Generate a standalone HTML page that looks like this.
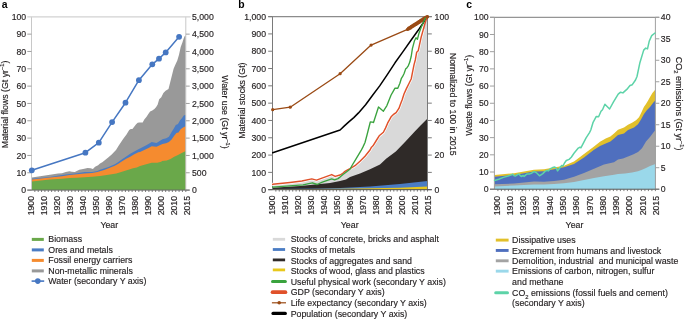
<!DOCTYPE html><html><head><meta charset="utf-8"><style>html,body{margin:0;padding:0;background:#fff;overflow:hidden}svg{display:block;will-change:transform}text{font-family:"Liberation Sans",sans-serif;stroke:#231f20;stroke-width:0.16px;paint-order:stroke}text.nb{stroke:none}</style></head><body>
<svg width="685" height="319" viewBox="0 0 685 319">
<rect width="685" height="319" fill="#fff"/>
<g style="stroke:none">
<text class="nb" x="1.8" y="7.9" font-size="10.4" text-anchor="start" font-weight="bold" fill="#000">a</text>
<text class="nb" x="238.2" y="7.9" font-size="10.4" text-anchor="start" font-weight="bold" fill="#000">b</text>
<text class="nb" x="466.2" y="7.9" font-size="10.4" text-anchor="start" font-weight="bold" fill="#000">c</text>
</g>
<polygon points="31.8,177.6 40.0,176.2 50.0,174.7 58.0,173.6 62.0,173.2 65.8,172.0 69.5,171.3 71.8,171.7 74.8,172.0 79.3,169.8 83.1,169.0 87.6,167.9 90.6,168.3 92.9,169.0 95.1,166.8 98.1,165.3 100.0,163.6 102.3,162.2 105.4,159.7 108.5,157.2 111.7,154.4 114.8,151.3 116.0,150.0 118.0,146.8 119.1,145.1 123.3,138.7 126.5,134.4 129.2,130.1 130.8,129.1 132.4,128.9 134.0,126.9 136.1,124.3 137.7,122.7 139.3,122.5 142.7,122.6 144.3,119.6 146.4,116.9 148.5,113.7 150.1,111.6 152.3,110.5 154.4,108.9 156.0,107.3 157.6,104.7 159.2,99.3 161.3,97.2 163.4,93.1 165.6,90.8 168.5,89.1 170.2,82.3 171.9,75.6 173.6,68.8 175.1,65.2 177.3,60.4 179.0,54.7 180.7,46.9 182.4,42.4 183.5,39.0 184.6,36.2 185.8,35.2 185.8,190.1 31.8,190.1" fill="#999999"/>
<polygon points="31.8,178.8 50.0,177.1 62.0,175.0 69.5,173.9 77.0,173.2 84.6,172.0 92.1,172.0 97.4,170.9 100.0,169.8 102.3,169.1 108.5,166.9 114.8,164.2 118.0,162.2 122.1,159.3 126.2,156.5 130.2,153.8 134.3,151.4 138.4,149.3 140.0,148.4 145.3,145.7 148.5,144.1 151.7,142.0 153.9,142.5 156.5,143.1 159.7,140.9 162.4,139.3 166.3,138.3 168.9,136.7 171.6,131.9 173.7,128.7 175.8,125.0 178.0,124.0 180.1,120.2 181.7,118.6 183.8,115.4 185.8,114.8 185.8,190.1 31.8,190.1" fill="#4a7cc4"/>
<polygon points="31.8,179.6 50.0,177.6 62.0,176.2 69.5,175.0 77.0,174.3 84.6,173.4 92.1,172.9 97.4,172.0 100.0,171.2 104.1,170.0 108.5,168.2 114.8,165.7 118.0,164.0 122.1,161.2 126.2,158.7 130.2,156.7 134.3,154.2 138.4,152.2 140.0,152.0 145.3,149.5 148.5,147.9 151.7,146.3 156.5,146.8 159.7,145.2 162.4,144.1 166.0,143.3 168.9,142.0 171.6,139.4 174.2,135.7 176.4,133.0 178.5,132.5 180.6,129.3 182.7,127.7 185.8,125.9 185.8,190.1 31.8,190.1" fill="#f58b2f"/>
<polygon points="31.8,181.5 50.0,179.6 62.0,178.8 69.5,178.1 77.0,177.7 84.6,177.2 92.1,176.7 100.0,176.0 110.0,174.6 116.3,173.4 122.0,171.8 127.6,169.9 133.0,168.2 136.8,167.6 140.0,166.0 145.3,164.4 151.7,162.8 157.1,162.8 161.3,161.7 162.0,161.0 166.7,160.6 170.5,159.1 174.2,156.8 178.0,154.9 181.7,153.0 185.8,150.9 185.8,190.1 31.8,190.1" fill="#6aa84a"/>
<line x1="34.85" y1="190.10" x2="34.85" y2="192.00" stroke="#5a5a5a" stroke-width="0.8"/>
<line x1="38.21" y1="190.10" x2="38.21" y2="192.00" stroke="#5a5a5a" stroke-width="0.8"/>
<line x1="41.56" y1="190.10" x2="41.56" y2="192.00" stroke="#5a5a5a" stroke-width="0.8"/>
<line x1="44.92" y1="190.10" x2="44.92" y2="192.00" stroke="#5a5a5a" stroke-width="0.8"/>
<line x1="48.27" y1="190.10" x2="48.27" y2="192.00" stroke="#5a5a5a" stroke-width="0.8"/>
<line x1="51.63" y1="190.10" x2="51.63" y2="192.00" stroke="#5a5a5a" stroke-width="0.8"/>
<line x1="54.98" y1="190.10" x2="54.98" y2="192.00" stroke="#5a5a5a" stroke-width="0.8"/>
<line x1="58.33" y1="190.10" x2="58.33" y2="192.00" stroke="#5a5a5a" stroke-width="0.8"/>
<line x1="61.69" y1="190.10" x2="61.69" y2="192.00" stroke="#5a5a5a" stroke-width="0.8"/>
<line x1="65.04" y1="190.10" x2="65.04" y2="192.00" stroke="#5a5a5a" stroke-width="0.8"/>
<line x1="68.40" y1="190.10" x2="68.40" y2="192.00" stroke="#5a5a5a" stroke-width="0.8"/>
<line x1="71.75" y1="190.10" x2="71.75" y2="192.00" stroke="#5a5a5a" stroke-width="0.8"/>
<line x1="75.11" y1="190.10" x2="75.11" y2="192.00" stroke="#5a5a5a" stroke-width="0.8"/>
<line x1="78.46" y1="190.10" x2="78.46" y2="192.00" stroke="#5a5a5a" stroke-width="0.8"/>
<line x1="81.82" y1="190.10" x2="81.82" y2="192.00" stroke="#5a5a5a" stroke-width="0.8"/>
<line x1="85.17" y1="190.10" x2="85.17" y2="192.00" stroke="#5a5a5a" stroke-width="0.8"/>
<line x1="88.52" y1="190.10" x2="88.52" y2="192.00" stroke="#5a5a5a" stroke-width="0.8"/>
<line x1="91.88" y1="190.10" x2="91.88" y2="192.00" stroke="#5a5a5a" stroke-width="0.8"/>
<line x1="95.23" y1="190.10" x2="95.23" y2="192.00" stroke="#5a5a5a" stroke-width="0.8"/>
<line x1="98.59" y1="190.10" x2="98.59" y2="192.00" stroke="#5a5a5a" stroke-width="0.8"/>
<line x1="101.94" y1="190.10" x2="101.94" y2="192.00" stroke="#5a5a5a" stroke-width="0.8"/>
<line x1="105.30" y1="190.10" x2="105.30" y2="192.00" stroke="#5a5a5a" stroke-width="0.8"/>
<line x1="108.65" y1="190.10" x2="108.65" y2="192.00" stroke="#5a5a5a" stroke-width="0.8"/>
<line x1="112.00" y1="190.10" x2="112.00" y2="192.00" stroke="#5a5a5a" stroke-width="0.8"/>
<line x1="115.36" y1="190.10" x2="115.36" y2="192.00" stroke="#5a5a5a" stroke-width="0.8"/>
<line x1="118.71" y1="190.10" x2="118.71" y2="192.00" stroke="#5a5a5a" stroke-width="0.8"/>
<line x1="122.07" y1="190.10" x2="122.07" y2="192.00" stroke="#5a5a5a" stroke-width="0.8"/>
<line x1="125.42" y1="190.10" x2="125.42" y2="192.00" stroke="#5a5a5a" stroke-width="0.8"/>
<line x1="128.78" y1="190.10" x2="128.78" y2="192.00" stroke="#5a5a5a" stroke-width="0.8"/>
<line x1="132.13" y1="190.10" x2="132.13" y2="192.00" stroke="#5a5a5a" stroke-width="0.8"/>
<line x1="135.48" y1="190.10" x2="135.48" y2="192.00" stroke="#5a5a5a" stroke-width="0.8"/>
<line x1="138.84" y1="190.10" x2="138.84" y2="192.00" stroke="#5a5a5a" stroke-width="0.8"/>
<line x1="142.19" y1="190.10" x2="142.19" y2="192.00" stroke="#5a5a5a" stroke-width="0.8"/>
<line x1="145.55" y1="190.10" x2="145.55" y2="192.00" stroke="#5a5a5a" stroke-width="0.8"/>
<line x1="148.90" y1="190.10" x2="148.90" y2="192.00" stroke="#5a5a5a" stroke-width="0.8"/>
<line x1="152.26" y1="190.10" x2="152.26" y2="192.00" stroke="#5a5a5a" stroke-width="0.8"/>
<line x1="155.61" y1="190.10" x2="155.61" y2="192.00" stroke="#5a5a5a" stroke-width="0.8"/>
<line x1="158.97" y1="190.10" x2="158.97" y2="192.00" stroke="#5a5a5a" stroke-width="0.8"/>
<line x1="162.32" y1="190.10" x2="162.32" y2="192.00" stroke="#5a5a5a" stroke-width="0.8"/>
<line x1="165.67" y1="190.10" x2="165.67" y2="192.00" stroke="#5a5a5a" stroke-width="0.8"/>
<line x1="169.03" y1="190.10" x2="169.03" y2="192.00" stroke="#5a5a5a" stroke-width="0.8"/>
<line x1="172.38" y1="190.10" x2="172.38" y2="192.00" stroke="#5a5a5a" stroke-width="0.8"/>
<line x1="175.74" y1="190.10" x2="175.74" y2="192.00" stroke="#5a5a5a" stroke-width="0.8"/>
<line x1="179.09" y1="190.10" x2="179.09" y2="192.00" stroke="#5a5a5a" stroke-width="0.8"/>
<line x1="182.45" y1="190.10" x2="182.45" y2="192.00" stroke="#5a5a5a" stroke-width="0.8"/>
<line x1="185.80" y1="190.10" x2="185.80" y2="192.00" stroke="#5a5a5a" stroke-width="0.8"/>
<line x1="31.50" y1="16.80" x2="31.50" y2="190.10" stroke="#c8c8c8" stroke-width="1"/>
<line x1="185.80" y1="16.80" x2="185.80" y2="190.10" stroke="#c8c8c8" stroke-width="1"/>
<line x1="27.30" y1="16.80" x2="190.60" y2="16.80" stroke="#d2d2d2" stroke-width="1.2"/>
<line x1="27.30" y1="190.10" x2="31.50" y2="190.10" stroke="#a0a0a0" stroke-width="1"/>
<line x1="27.30" y1="172.77" x2="31.50" y2="172.77" stroke="#a0a0a0" stroke-width="1"/>
<line x1="27.30" y1="155.44" x2="31.50" y2="155.44" stroke="#a0a0a0" stroke-width="1"/>
<line x1="27.30" y1="138.11" x2="31.50" y2="138.11" stroke="#a0a0a0" stroke-width="1"/>
<line x1="27.30" y1="120.78" x2="31.50" y2="120.78" stroke="#a0a0a0" stroke-width="1"/>
<line x1="27.30" y1="103.45" x2="31.50" y2="103.45" stroke="#a0a0a0" stroke-width="1"/>
<line x1="27.30" y1="86.12" x2="31.50" y2="86.12" stroke="#a0a0a0" stroke-width="1"/>
<line x1="27.30" y1="68.79" x2="31.50" y2="68.79" stroke="#a0a0a0" stroke-width="1"/>
<line x1="27.30" y1="51.46" x2="31.50" y2="51.46" stroke="#a0a0a0" stroke-width="1"/>
<line x1="27.30" y1="34.13" x2="31.50" y2="34.13" stroke="#a0a0a0" stroke-width="1"/>
<line x1="185.80" y1="190.10" x2="189.70" y2="190.10" stroke="#a0a0a0" stroke-width="1"/>
<line x1="185.80" y1="172.77" x2="189.70" y2="172.77" stroke="#a0a0a0" stroke-width="1"/>
<line x1="185.80" y1="155.44" x2="189.70" y2="155.44" stroke="#a0a0a0" stroke-width="1"/>
<line x1="185.80" y1="138.11" x2="189.70" y2="138.11" stroke="#a0a0a0" stroke-width="1"/>
<line x1="185.80" y1="120.78" x2="189.70" y2="120.78" stroke="#a0a0a0" stroke-width="1"/>
<line x1="185.80" y1="103.45" x2="189.70" y2="103.45" stroke="#a0a0a0" stroke-width="1"/>
<line x1="185.80" y1="86.12" x2="189.70" y2="86.12" stroke="#a0a0a0" stroke-width="1"/>
<line x1="185.80" y1="68.79" x2="189.70" y2="68.79" stroke="#a0a0a0" stroke-width="1"/>
<line x1="185.80" y1="51.46" x2="189.70" y2="51.46" stroke="#a0a0a0" stroke-width="1"/>
<line x1="185.80" y1="34.13" x2="189.70" y2="34.13" stroke="#a0a0a0" stroke-width="1"/>
<line x1="27.30" y1="190.10" x2="189.70" y2="190.10" stroke="#666" stroke-width="1"/>
<polyline points="31.8,170.3 85.4,152.7 98.8,142.7 112.1,122.1 125.5,102.7 138.9,80.2 152.3,64.3 159.0,58.7 165.7,52.4 179.1,36.8" fill="none" stroke="#4677c2" stroke-width="1.5" stroke-linejoin="round" stroke-linecap="round" />
<circle cx="31.8" cy="170.3" r="2.9" fill="#4677c2"/>
<circle cx="85.4" cy="152.7" r="2.9" fill="#4677c2"/>
<circle cx="98.8" cy="142.7" r="2.9" fill="#4677c2"/>
<circle cx="112.1" cy="122.1" r="2.9" fill="#4677c2"/>
<circle cx="125.5" cy="102.7" r="2.9" fill="#4677c2"/>
<circle cx="138.9" cy="80.2" r="2.9" fill="#4677c2"/>
<circle cx="152.3" cy="64.3" r="2.9" fill="#4677c2"/>
<circle cx="159.0" cy="58.7" r="2.9" fill="#4677c2"/>
<circle cx="165.7" cy="52.4" r="2.9" fill="#4677c2"/>
<circle cx="179.1" cy="36.8" r="2.9" fill="#4677c2"/>
<text x="26.2" y="193.2" font-size="8.7" text-anchor="end" font-weight="normal" fill="#231f20">0</text>
<text x="26.2" y="175.9" font-size="8.7" text-anchor="end" font-weight="normal" fill="#231f20">10</text>
<text x="26.2" y="158.5" font-size="8.7" text-anchor="end" font-weight="normal" fill="#231f20">20</text>
<text x="26.2" y="141.2" font-size="8.7" text-anchor="end" font-weight="normal" fill="#231f20">30</text>
<text x="26.2" y="123.9" font-size="8.7" text-anchor="end" font-weight="normal" fill="#231f20">40</text>
<text x="26.2" y="106.5" font-size="8.7" text-anchor="end" font-weight="normal" fill="#231f20">50</text>
<text x="26.2" y="89.2" font-size="8.7" text-anchor="end" font-weight="normal" fill="#231f20">60</text>
<text x="26.2" y="71.9" font-size="8.7" text-anchor="end" font-weight="normal" fill="#231f20">70</text>
<text x="26.2" y="54.6" font-size="8.7" text-anchor="end" font-weight="normal" fill="#231f20">80</text>
<text x="26.2" y="37.2" font-size="8.7" text-anchor="end" font-weight="normal" fill="#231f20">90</text>
<text x="26.2" y="19.9" font-size="8.7" text-anchor="end" font-weight="normal" fill="#231f20">100</text>
<text x="192.0" y="193.2" font-size="8.7" text-anchor="start" font-weight="normal" fill="#231f20">0</text>
<text x="192.0" y="175.9" font-size="8.7" text-anchor="start" font-weight="normal" fill="#231f20">500</text>
<text x="192.0" y="158.5" font-size="8.7" text-anchor="start" font-weight="normal" fill="#231f20">1,000</text>
<text x="192.0" y="141.2" font-size="8.7" text-anchor="start" font-weight="normal" fill="#231f20">1,500</text>
<text x="192.0" y="123.9" font-size="8.7" text-anchor="start" font-weight="normal" fill="#231f20">2,000</text>
<text x="192.0" y="106.5" font-size="8.7" text-anchor="start" font-weight="normal" fill="#231f20">2,500</text>
<text x="192.0" y="89.2" font-size="8.7" text-anchor="start" font-weight="normal" fill="#231f20">3,000</text>
<text x="192.0" y="71.9" font-size="8.7" text-anchor="start" font-weight="normal" fill="#231f20">3,500</text>
<text x="192.0" y="54.6" font-size="8.7" text-anchor="start" font-weight="normal" fill="#231f20">4,000</text>
<text x="192.0" y="37.2" font-size="8.7" text-anchor="start" font-weight="normal" fill="#231f20">4,500</text>
<text x="192.0" y="19.9" font-size="8.7" text-anchor="start" font-weight="normal" fill="#231f20">5,000</text>
<text x="8.5" y="104.4" font-size="8.8" text-anchor="middle" font-weight="normal" fill="#231f20" transform="rotate(-90 8.5 104.4)">Material flows (Gt yr<tspan font-size="5.8" dy="-4.4">–1</tspan><tspan dy="4.4">)</tspan></text>
<text x="221.6" y="112.0" font-size="8.8" text-anchor="middle" font-weight="normal" fill="#231f20" transform="rotate(90 221.6 112.0)">Water use (Gt yr<tspan font-size="5.8" dy="-4.4">–1</tspan><tspan dy="4.4">)</tspan></text>
<polygon points="272.7,184.3 290.0,182.5 301.9,181.0 311.8,178.9 316.5,180.1 331.7,174.6 335.2,176.4 340.0,175.0 342.8,173.3 345.0,171.4 348.0,169.6 350.0,168.6 355.0,165.7 360.0,161.3 365.0,156.3 368.0,152.5 370.0,150.0 371.5,147.2 373.0,145.8 376.3,140.5 379.2,135.8 383.4,132.3 385.5,128.1 387.6,123.2 391.1,116.8 393.2,114.7 396.1,112.6 398.9,108.4 401.0,102.7 402.1,100.0 404.0,94.0 406.3,88.9 409.1,83.2 411.2,79.0 412.6,71.9 414.0,64.9 415.3,60.0 416.7,52.2 418.2,50.8 419.6,44.3 421.0,37.8 423.2,29.9 424.6,24.8 426.1,19.8 427.5,16.6 427.5,189.7 272.7,189.7" fill="#d9d9d9"/>
<polygon points="272.7,187.8 300.0,186.0 330.0,183.0 340.0,181.0 346.0,179.6 350.0,177.0 360.0,173.6 370.0,169.3 380.0,164.5 386.4,158.6 395.8,151.6 405.0,141.9 415.0,131.2 421.0,125.0 427.5,118.4 427.5,189.7 272.7,189.7" fill="#2f2a28"/>
<polygon points="272.7,189.0 320.0,188.5 340.0,187.9 370.0,186.5 400.0,184.0 427.5,180.9 427.5,189.7 272.7,189.7" fill="#4a7cc4"/>
<polygon points="272.7,189.2 340.0,188.8 400.0,187.8 427.5,186.4 427.5,189.7 272.7,189.7" fill="#e8c81c"/>
<line x1="275.87" y1="189.70" x2="275.87" y2="191.60" stroke="#5a5a5a" stroke-width="0.8"/>
<line x1="279.24" y1="189.70" x2="279.24" y2="191.60" stroke="#5a5a5a" stroke-width="0.8"/>
<line x1="282.61" y1="189.70" x2="282.61" y2="191.60" stroke="#5a5a5a" stroke-width="0.8"/>
<line x1="285.98" y1="189.70" x2="285.98" y2="191.60" stroke="#5a5a5a" stroke-width="0.8"/>
<line x1="289.35" y1="189.70" x2="289.35" y2="191.60" stroke="#5a5a5a" stroke-width="0.8"/>
<line x1="292.72" y1="189.70" x2="292.72" y2="191.60" stroke="#5a5a5a" stroke-width="0.8"/>
<line x1="296.09" y1="189.70" x2="296.09" y2="191.60" stroke="#5a5a5a" stroke-width="0.8"/>
<line x1="299.46" y1="189.70" x2="299.46" y2="191.60" stroke="#5a5a5a" stroke-width="0.8"/>
<line x1="302.83" y1="189.70" x2="302.83" y2="191.60" stroke="#5a5a5a" stroke-width="0.8"/>
<line x1="306.20" y1="189.70" x2="306.20" y2="191.60" stroke="#5a5a5a" stroke-width="0.8"/>
<line x1="309.57" y1="189.70" x2="309.57" y2="191.60" stroke="#5a5a5a" stroke-width="0.8"/>
<line x1="312.93" y1="189.70" x2="312.93" y2="191.60" stroke="#5a5a5a" stroke-width="0.8"/>
<line x1="316.30" y1="189.70" x2="316.30" y2="191.60" stroke="#5a5a5a" stroke-width="0.8"/>
<line x1="319.67" y1="189.70" x2="319.67" y2="191.60" stroke="#5a5a5a" stroke-width="0.8"/>
<line x1="323.04" y1="189.70" x2="323.04" y2="191.60" stroke="#5a5a5a" stroke-width="0.8"/>
<line x1="326.41" y1="189.70" x2="326.41" y2="191.60" stroke="#5a5a5a" stroke-width="0.8"/>
<line x1="329.78" y1="189.70" x2="329.78" y2="191.60" stroke="#5a5a5a" stroke-width="0.8"/>
<line x1="333.15" y1="189.70" x2="333.15" y2="191.60" stroke="#5a5a5a" stroke-width="0.8"/>
<line x1="336.52" y1="189.70" x2="336.52" y2="191.60" stroke="#5a5a5a" stroke-width="0.8"/>
<line x1="339.89" y1="189.70" x2="339.89" y2="191.60" stroke="#5a5a5a" stroke-width="0.8"/>
<line x1="343.26" y1="189.70" x2="343.26" y2="191.60" stroke="#5a5a5a" stroke-width="0.8"/>
<line x1="346.63" y1="189.70" x2="346.63" y2="191.60" stroke="#5a5a5a" stroke-width="0.8"/>
<line x1="350.00" y1="189.70" x2="350.00" y2="191.60" stroke="#5a5a5a" stroke-width="0.8"/>
<line x1="353.37" y1="189.70" x2="353.37" y2="191.60" stroke="#5a5a5a" stroke-width="0.8"/>
<line x1="356.74" y1="189.70" x2="356.74" y2="191.60" stroke="#5a5a5a" stroke-width="0.8"/>
<line x1="360.11" y1="189.70" x2="360.11" y2="191.60" stroke="#5a5a5a" stroke-width="0.8"/>
<line x1="363.48" y1="189.70" x2="363.48" y2="191.60" stroke="#5a5a5a" stroke-width="0.8"/>
<line x1="366.85" y1="189.70" x2="366.85" y2="191.60" stroke="#5a5a5a" stroke-width="0.8"/>
<line x1="370.22" y1="189.70" x2="370.22" y2="191.60" stroke="#5a5a5a" stroke-width="0.8"/>
<line x1="373.59" y1="189.70" x2="373.59" y2="191.60" stroke="#5a5a5a" stroke-width="0.8"/>
<line x1="376.96" y1="189.70" x2="376.96" y2="191.60" stroke="#5a5a5a" stroke-width="0.8"/>
<line x1="380.33" y1="189.70" x2="380.33" y2="191.60" stroke="#5a5a5a" stroke-width="0.8"/>
<line x1="383.70" y1="189.70" x2="383.70" y2="191.60" stroke="#5a5a5a" stroke-width="0.8"/>
<line x1="387.07" y1="189.70" x2="387.07" y2="191.60" stroke="#5a5a5a" stroke-width="0.8"/>
<line x1="390.43" y1="189.70" x2="390.43" y2="191.60" stroke="#5a5a5a" stroke-width="0.8"/>
<line x1="393.80" y1="189.70" x2="393.80" y2="191.60" stroke="#5a5a5a" stroke-width="0.8"/>
<line x1="397.17" y1="189.70" x2="397.17" y2="191.60" stroke="#5a5a5a" stroke-width="0.8"/>
<line x1="400.54" y1="189.70" x2="400.54" y2="191.60" stroke="#5a5a5a" stroke-width="0.8"/>
<line x1="403.91" y1="189.70" x2="403.91" y2="191.60" stroke="#5a5a5a" stroke-width="0.8"/>
<line x1="407.28" y1="189.70" x2="407.28" y2="191.60" stroke="#5a5a5a" stroke-width="0.8"/>
<line x1="410.65" y1="189.70" x2="410.65" y2="191.60" stroke="#5a5a5a" stroke-width="0.8"/>
<line x1="414.02" y1="189.70" x2="414.02" y2="191.60" stroke="#5a5a5a" stroke-width="0.8"/>
<line x1="417.39" y1="189.70" x2="417.39" y2="191.60" stroke="#5a5a5a" stroke-width="0.8"/>
<line x1="420.76" y1="189.70" x2="420.76" y2="191.60" stroke="#5a5a5a" stroke-width="0.8"/>
<line x1="424.13" y1="189.70" x2="424.13" y2="191.60" stroke="#5a5a5a" stroke-width="0.8"/>
<line x1="427.50" y1="189.70" x2="427.50" y2="191.60" stroke="#5a5a5a" stroke-width="0.8"/>
<line x1="272.50" y1="16.60" x2="272.50" y2="189.70" stroke="#7a7a7a" stroke-width="1"/>
<line x1="427.50" y1="16.60" x2="427.50" y2="189.70" stroke="#7a7a7a" stroke-width="1"/>
<line x1="268.20" y1="16.60" x2="431.80" y2="16.60" stroke="#8c8c8c" stroke-width="1.2"/>
<line x1="268.20" y1="189.70" x2="272.50" y2="189.70" stroke="#7a7a7a" stroke-width="1"/>
<line x1="268.20" y1="172.39" x2="272.50" y2="172.39" stroke="#7a7a7a" stroke-width="1"/>
<line x1="268.20" y1="155.08" x2="272.50" y2="155.08" stroke="#7a7a7a" stroke-width="1"/>
<line x1="268.20" y1="137.77" x2="272.50" y2="137.77" stroke="#7a7a7a" stroke-width="1"/>
<line x1="268.20" y1="120.46" x2="272.50" y2="120.46" stroke="#7a7a7a" stroke-width="1"/>
<line x1="268.20" y1="103.15" x2="272.50" y2="103.15" stroke="#7a7a7a" stroke-width="1"/>
<line x1="268.20" y1="85.84" x2="272.50" y2="85.84" stroke="#7a7a7a" stroke-width="1"/>
<line x1="268.20" y1="68.53" x2="272.50" y2="68.53" stroke="#7a7a7a" stroke-width="1"/>
<line x1="268.20" y1="51.22" x2="272.50" y2="51.22" stroke="#7a7a7a" stroke-width="1"/>
<line x1="268.20" y1="33.91" x2="272.50" y2="33.91" stroke="#7a7a7a" stroke-width="1"/>
<line x1="268.20" y1="16.60" x2="272.50" y2="16.60" stroke="#7a7a7a" stroke-width="1"/>
<line x1="427.50" y1="189.70" x2="431.80" y2="189.70" stroke="#7a7a7a" stroke-width="1"/>
<line x1="427.50" y1="172.39" x2="431.80" y2="172.39" stroke="#7a7a7a" stroke-width="1"/>
<line x1="427.50" y1="155.08" x2="431.80" y2="155.08" stroke="#7a7a7a" stroke-width="1"/>
<line x1="427.50" y1="137.77" x2="431.80" y2="137.77" stroke="#7a7a7a" stroke-width="1"/>
<line x1="427.50" y1="120.46" x2="431.80" y2="120.46" stroke="#7a7a7a" stroke-width="1"/>
<line x1="427.50" y1="103.15" x2="431.80" y2="103.15" stroke="#7a7a7a" stroke-width="1"/>
<line x1="427.50" y1="85.84" x2="431.80" y2="85.84" stroke="#7a7a7a" stroke-width="1"/>
<line x1="427.50" y1="68.53" x2="431.80" y2="68.53" stroke="#7a7a7a" stroke-width="1"/>
<line x1="427.50" y1="51.22" x2="431.80" y2="51.22" stroke="#7a7a7a" stroke-width="1"/>
<line x1="427.50" y1="33.91" x2="431.80" y2="33.91" stroke="#7a7a7a" stroke-width="1"/>
<line x1="427.50" y1="16.60" x2="431.80" y2="16.60" stroke="#7a7a7a" stroke-width="1"/>
<line x1="268.20" y1="189.70" x2="431.80" y2="189.70" stroke="#555" stroke-width="1"/>
<polyline points="272.7,109.7 290.2,107.2 340.1,73.7 371.1,45.1 407.5,29.4 408.8,28.5 410.2,27.7 411.5,26.8 412.8,26.0 414.2,25.1 415.5,24.2 416.8,23.4 418.2,22.5 419.5,21.7 420.8,20.8 422.2,19.9 423.5,19.1 424.8,18.2 426.2,17.4 427.5,16.5" fill="none" stroke="#9a4a14" stroke-width="1.3" stroke-linejoin="round" stroke-linecap="round" />
<circle cx="272.7" cy="109.7" r="1.6" fill="#9a4a14"/>
<circle cx="290.2" cy="107.2" r="1.6" fill="#9a4a14"/>
<circle cx="340.1" cy="73.7" r="1.6" fill="#9a4a14"/>
<circle cx="371.1" cy="45.1" r="1.6" fill="#9a4a14"/>
<circle cx="407.5" cy="29.4" r="1.6" fill="#9a4a14"/>
<circle cx="408.8" cy="28.5" r="2.0" fill="#9a4a14"/>
<circle cx="410.2" cy="27.7" r="2.0" fill="#9a4a14"/>
<circle cx="411.5" cy="26.8" r="2.0" fill="#9a4a14"/>
<circle cx="412.8" cy="26.0" r="2.0" fill="#9a4a14"/>
<circle cx="414.2" cy="25.1" r="2.0" fill="#9a4a14"/>
<circle cx="415.5" cy="24.2" r="2.0" fill="#9a4a14"/>
<circle cx="416.8" cy="23.4" r="2.0" fill="#9a4a14"/>
<circle cx="418.2" cy="22.5" r="2.0" fill="#9a4a14"/>
<circle cx="419.5" cy="21.7" r="2.0" fill="#9a4a14"/>
<circle cx="420.8" cy="20.8" r="2.0" fill="#9a4a14"/>
<circle cx="422.2" cy="19.9" r="2.0" fill="#9a4a14"/>
<circle cx="423.5" cy="19.1" r="2.0" fill="#9a4a14"/>
<circle cx="424.8" cy="18.2" r="2.0" fill="#9a4a14"/>
<circle cx="426.2" cy="17.4" r="2.0" fill="#9a4a14"/>
<circle cx="427.5" cy="16.5" r="1.6" fill="#9a4a14"/>
<polyline points="272.7,152.8 340.1,130.0 344.4,125.9 349.1,121.6 353.8,117.6 358.5,112.9 365.6,104.7 372.6,95.3 379.7,85.9 386.8,75.3 395.0,62.8 403.0,51.6 411.0,40.3 419.1,29.0 427.5,16.6" fill="none" stroke="#000000" stroke-width="1.5" stroke-linejoin="round" stroke-linecap="round" />
<polyline points="272.7,184.3 290.0,182.5 301.9,181.0 311.8,178.9 316.5,180.1 331.7,174.6 335.2,176.4 340.0,175.0 342.8,173.3 345.0,171.4 348.0,169.6 350.0,168.6 355.0,165.7 360.0,161.3 365.0,156.3 368.0,152.5 370.0,150.0 371.5,147.2 373.0,145.8 376.3,140.5 379.2,135.8 383.4,132.3 385.5,128.1 387.6,123.2 391.1,116.8 393.2,114.7 396.1,112.6 398.9,108.4 401.0,102.7 402.1,100.0 404.0,94.0 406.3,88.9 409.1,83.2 411.2,79.0 412.6,71.9 414.0,64.9 415.3,60.0 416.7,52.2 418.2,50.8 419.6,44.3 421.0,37.8 423.2,29.9" fill="none" stroke="#ffffff" stroke-width="2.9" stroke-linejoin="round" stroke-linecap="round" />
<polyline points="272.7,184.3 290.0,182.5 301.9,181.0 311.8,178.9 316.5,180.1 331.7,174.6 335.2,176.4 340.0,175.0 342.8,173.3 345.0,171.4 348.0,169.6 350.0,168.6 355.0,165.7 360.0,161.3 365.0,156.3 368.0,152.5 370.0,150.0 371.5,147.2 373.0,145.8 376.3,140.5 379.2,135.8 383.4,132.3 385.5,128.1 387.6,123.2 391.1,116.8 393.2,114.7 396.1,112.6 398.9,108.4 401.0,102.7 402.1,100.0 404.0,94.0 406.3,88.9 409.1,83.2 411.2,79.0 412.6,71.9 414.0,64.9 415.3,60.0 416.7,52.2 418.2,50.8 419.6,44.3 421.0,37.8 423.2,29.9 424.6,24.8 426.1,19.8 427.5,16.6" fill="none" stroke="#e0512a" stroke-width="1.45" stroke-linejoin="round" stroke-linecap="round" />
<polyline points="272.7,187.1 303.0,184.8 312.4,182.8 317.1,184.5 322.3,182.2 331.7,178.9 334.6,179.9 338.0,178.6 340.0,177.1 343.0,174.5 347.0,171.5 350.0,169.2 352.0,165.5 355.0,160.7 358.0,155.7 361.0,150.7 363.0,146.9 365.0,142.5 367.0,135.0 370.3,122.0 372.4,122.2 373.5,122.5 378.5,107.0 383.4,111.2 386.9,105.6 389.7,98.5 391.1,95.0 392.9,91.9 395.0,88.2 397.8,88.2 399.9,83.2 401.4,78.3 402.8,76.2 404.2,73.3 405.6,69.1 407.0,67.7 408.4,65.6 409.8,62.1 410.4,59.5 411.2,56.5 412.4,48.6 414.5,40.7 416.0,37.8 417.4,39.3 418.9,33.5 421.0,27.7 423.2,22.7 425.4,18.3 427.5,16.6" fill="none" stroke="#3aa33e" stroke-width="1.35" stroke-linejoin="round" stroke-linecap="round" />
<circle cx="427.2" cy="16.9" r="1.7" fill="#9a4a14"/>
<text x="266.0" y="192.8" font-size="8.7" text-anchor="end" font-weight="normal" fill="#231f20">0</text>
<text x="266.0" y="175.5" font-size="8.7" text-anchor="end" font-weight="normal" fill="#231f20">100</text>
<text x="266.0" y="158.2" font-size="8.7" text-anchor="end" font-weight="normal" fill="#231f20">200</text>
<text x="266.0" y="140.9" font-size="8.7" text-anchor="end" font-weight="normal" fill="#231f20">300</text>
<text x="266.0" y="123.6" font-size="8.7" text-anchor="end" font-weight="normal" fill="#231f20">400</text>
<text x="266.0" y="106.2" font-size="8.7" text-anchor="end" font-weight="normal" fill="#231f20">500</text>
<text x="266.0" y="88.9" font-size="8.7" text-anchor="end" font-weight="normal" fill="#231f20">600</text>
<text x="266.0" y="71.6" font-size="8.7" text-anchor="end" font-weight="normal" fill="#231f20">700</text>
<text x="266.0" y="54.3" font-size="8.7" text-anchor="end" font-weight="normal" fill="#231f20">800</text>
<text x="266.0" y="37.0" font-size="8.7" text-anchor="end" font-weight="normal" fill="#231f20">900</text>
<text x="266.0" y="19.7" font-size="8.7" text-anchor="end" font-weight="normal" fill="#231f20">1,000</text>
<text x="434.6" y="192.8" font-size="8.7" text-anchor="start" font-weight="normal" fill="#231f20">0</text>
<text x="434.6" y="158.2" font-size="8.7" text-anchor="start" font-weight="normal" fill="#231f20">20</text>
<text x="434.6" y="123.6" font-size="8.7" text-anchor="start" font-weight="normal" fill="#231f20">40</text>
<text x="434.6" y="88.9" font-size="8.7" text-anchor="start" font-weight="normal" fill="#231f20">60</text>
<text x="434.6" y="54.3" font-size="8.7" text-anchor="start" font-weight="normal" fill="#231f20">80</text>
<text x="434.6" y="19.7" font-size="8.7" text-anchor="start" font-weight="normal" fill="#231f20">100</text>
<text x="244.9" y="100.6" font-size="8.8" text-anchor="middle" font-weight="normal" fill="#231f20" transform="rotate(-90 244.9 100.6)">Material stocks (Gt)</text>
<text x="449.6" y="104.2" font-size="8.8" text-anchor="middle" font-weight="normal" fill="#231f20" transform="rotate(90 449.6 104.2)">Normalized to 100 in 2015</text>
<polygon points="494.6,174.9 514.0,173.2 534.0,169.8 544.0,169.2 554.0,167.6 564.0,165.7 574.0,161.5 584.0,154.1 594.0,146.4 600.0,141.8 605.7,138.5 610.4,136.4 614.0,133.5 618.0,129.8 624.0,127.5 628.0,124.8 632.0,122.7 636.0,120.3 639.0,117.2 641.0,113.3 644.0,106.8 646.0,104.1 648.1,100.4 650.2,96.7 652.4,92.9 655.4,89.5 655.4,189.2 494.6,189.2" fill="#e2c02a"/>
<polygon points="494.6,176.8 514.0,174.9 534.0,171.6 544.0,171.2 554.0,169.2 564.0,167.3 574.0,164.0 584.0,157.6 594.0,149.8 600.0,146.0 605.7,143.4 610.4,141.5 614.0,138.5 618.0,135.0 624.0,133.5 628.0,130.0 634.0,127.4 638.0,124.3 641.0,119.6 644.0,114.1 647.0,110.1 650.0,107.0 653.0,103.1 655.4,100.3 655.4,189.2 494.6,189.2" fill="#4f6fbe"/>
<polygon points="494.6,184.3 514.0,183.5 534.0,181.5 544.0,181.8 554.0,181.1 564.0,179.7 574.0,176.8 584.0,173.1 594.0,168.8 604.0,164.5 614.0,162.3 618.0,159.6 623.0,158.5 628.0,156.6 633.0,154.4 638.0,151.9 642.0,148.2 646.0,141.6 650.0,136.9 653.0,133.1 655.4,130.0 655.4,189.2 494.6,189.2" fill="#a3a3a3"/>
<polygon points="494.6,186.4 514.0,185.6 534.0,184.5 544.0,184.4 554.0,184.0 564.0,183.3 574.0,181.9 584.0,180.0 594.0,177.9 604.0,176.2 614.0,174.8 618.0,174.1 625.0,173.5 632.0,172.6 638.0,171.3 642.0,169.8 646.0,167.9 650.0,166.0 655.4,164.1 655.4,189.2 494.6,189.2" fill="#9ad8ea"/>
<line x1="497.90" y1="189.20" x2="497.90" y2="191.10" stroke="#5a5a5a" stroke-width="0.8"/>
<line x1="501.40" y1="189.20" x2="501.40" y2="191.10" stroke="#5a5a5a" stroke-width="0.8"/>
<line x1="504.90" y1="189.20" x2="504.90" y2="191.10" stroke="#5a5a5a" stroke-width="0.8"/>
<line x1="508.40" y1="189.20" x2="508.40" y2="191.10" stroke="#5a5a5a" stroke-width="0.8"/>
<line x1="511.90" y1="189.20" x2="511.90" y2="191.10" stroke="#5a5a5a" stroke-width="0.8"/>
<line x1="515.40" y1="189.20" x2="515.40" y2="191.10" stroke="#5a5a5a" stroke-width="0.8"/>
<line x1="518.90" y1="189.20" x2="518.90" y2="191.10" stroke="#5a5a5a" stroke-width="0.8"/>
<line x1="522.40" y1="189.20" x2="522.40" y2="191.10" stroke="#5a5a5a" stroke-width="0.8"/>
<line x1="525.90" y1="189.20" x2="525.90" y2="191.10" stroke="#5a5a5a" stroke-width="0.8"/>
<line x1="529.40" y1="189.20" x2="529.40" y2="191.10" stroke="#5a5a5a" stroke-width="0.8"/>
<line x1="532.90" y1="189.20" x2="532.90" y2="191.10" stroke="#5a5a5a" stroke-width="0.8"/>
<line x1="536.40" y1="189.20" x2="536.40" y2="191.10" stroke="#5a5a5a" stroke-width="0.8"/>
<line x1="539.90" y1="189.20" x2="539.90" y2="191.10" stroke="#5a5a5a" stroke-width="0.8"/>
<line x1="543.40" y1="189.20" x2="543.40" y2="191.10" stroke="#5a5a5a" stroke-width="0.8"/>
<line x1="546.90" y1="189.20" x2="546.90" y2="191.10" stroke="#5a5a5a" stroke-width="0.8"/>
<line x1="550.40" y1="189.20" x2="550.40" y2="191.10" stroke="#5a5a5a" stroke-width="0.8"/>
<line x1="553.90" y1="189.20" x2="553.90" y2="191.10" stroke="#5a5a5a" stroke-width="0.8"/>
<line x1="557.40" y1="189.20" x2="557.40" y2="191.10" stroke="#5a5a5a" stroke-width="0.8"/>
<line x1="560.90" y1="189.20" x2="560.90" y2="191.10" stroke="#5a5a5a" stroke-width="0.8"/>
<line x1="564.40" y1="189.20" x2="564.40" y2="191.10" stroke="#5a5a5a" stroke-width="0.8"/>
<line x1="567.90" y1="189.20" x2="567.90" y2="191.10" stroke="#5a5a5a" stroke-width="0.8"/>
<line x1="571.40" y1="189.20" x2="571.40" y2="191.10" stroke="#5a5a5a" stroke-width="0.8"/>
<line x1="574.90" y1="189.20" x2="574.90" y2="191.10" stroke="#5a5a5a" stroke-width="0.8"/>
<line x1="578.40" y1="189.20" x2="578.40" y2="191.10" stroke="#5a5a5a" stroke-width="0.8"/>
<line x1="581.90" y1="189.20" x2="581.90" y2="191.10" stroke="#5a5a5a" stroke-width="0.8"/>
<line x1="585.40" y1="189.20" x2="585.40" y2="191.10" stroke="#5a5a5a" stroke-width="0.8"/>
<line x1="588.90" y1="189.20" x2="588.90" y2="191.10" stroke="#5a5a5a" stroke-width="0.8"/>
<line x1="592.40" y1="189.20" x2="592.40" y2="191.10" stroke="#5a5a5a" stroke-width="0.8"/>
<line x1="595.90" y1="189.20" x2="595.90" y2="191.10" stroke="#5a5a5a" stroke-width="0.8"/>
<line x1="599.40" y1="189.20" x2="599.40" y2="191.10" stroke="#5a5a5a" stroke-width="0.8"/>
<line x1="602.90" y1="189.20" x2="602.90" y2="191.10" stroke="#5a5a5a" stroke-width="0.8"/>
<line x1="606.40" y1="189.20" x2="606.40" y2="191.10" stroke="#5a5a5a" stroke-width="0.8"/>
<line x1="609.90" y1="189.20" x2="609.90" y2="191.10" stroke="#5a5a5a" stroke-width="0.8"/>
<line x1="613.40" y1="189.20" x2="613.40" y2="191.10" stroke="#5a5a5a" stroke-width="0.8"/>
<line x1="616.90" y1="189.20" x2="616.90" y2="191.10" stroke="#5a5a5a" stroke-width="0.8"/>
<line x1="620.40" y1="189.20" x2="620.40" y2="191.10" stroke="#5a5a5a" stroke-width="0.8"/>
<line x1="623.90" y1="189.20" x2="623.90" y2="191.10" stroke="#5a5a5a" stroke-width="0.8"/>
<line x1="627.40" y1="189.20" x2="627.40" y2="191.10" stroke="#5a5a5a" stroke-width="0.8"/>
<line x1="630.90" y1="189.20" x2="630.90" y2="191.10" stroke="#5a5a5a" stroke-width="0.8"/>
<line x1="634.40" y1="189.20" x2="634.40" y2="191.10" stroke="#5a5a5a" stroke-width="0.8"/>
<line x1="637.90" y1="189.20" x2="637.90" y2="191.10" stroke="#5a5a5a" stroke-width="0.8"/>
<line x1="641.40" y1="189.20" x2="641.40" y2="191.10" stroke="#5a5a5a" stroke-width="0.8"/>
<line x1="644.90" y1="189.20" x2="644.90" y2="191.10" stroke="#5a5a5a" stroke-width="0.8"/>
<line x1="648.40" y1="189.20" x2="648.40" y2="191.10" stroke="#5a5a5a" stroke-width="0.8"/>
<line x1="651.90" y1="189.20" x2="651.90" y2="191.10" stroke="#5a5a5a" stroke-width="0.8"/>
<line x1="655.40" y1="189.20" x2="655.40" y2="191.10" stroke="#5a5a5a" stroke-width="0.8"/>
<line x1="494.40" y1="17.30" x2="494.40" y2="189.20" stroke="#a0a0a0" stroke-width="1"/>
<line x1="655.40" y1="17.30" x2="655.40" y2="189.20" stroke="#a0a0a0" stroke-width="1"/>
<line x1="490.00" y1="17.30" x2="659.30" y2="17.30" stroke="#959595" stroke-width="1.2"/>
<line x1="490.00" y1="189.20" x2="494.40" y2="189.20" stroke="#a0a0a0" stroke-width="1"/>
<line x1="490.00" y1="172.01" x2="494.40" y2="172.01" stroke="#a0a0a0" stroke-width="1"/>
<line x1="490.00" y1="154.82" x2="494.40" y2="154.82" stroke="#a0a0a0" stroke-width="1"/>
<line x1="490.00" y1="137.63" x2="494.40" y2="137.63" stroke="#a0a0a0" stroke-width="1"/>
<line x1="490.00" y1="120.44" x2="494.40" y2="120.44" stroke="#a0a0a0" stroke-width="1"/>
<line x1="490.00" y1="103.25" x2="494.40" y2="103.25" stroke="#a0a0a0" stroke-width="1"/>
<line x1="490.00" y1="86.06" x2="494.40" y2="86.06" stroke="#a0a0a0" stroke-width="1"/>
<line x1="490.00" y1="68.87" x2="494.40" y2="68.87" stroke="#a0a0a0" stroke-width="1"/>
<line x1="490.00" y1="51.68" x2="494.40" y2="51.68" stroke="#a0a0a0" stroke-width="1"/>
<line x1="490.00" y1="34.49" x2="494.40" y2="34.49" stroke="#a0a0a0" stroke-width="1"/>
<line x1="490.00" y1="17.30" x2="494.40" y2="17.30" stroke="#a0a0a0" stroke-width="1"/>
<line x1="655.40" y1="189.20" x2="659.30" y2="189.20" stroke="#a0a0a0" stroke-width="1"/>
<line x1="655.40" y1="167.71" x2="659.30" y2="167.71" stroke="#a0a0a0" stroke-width="1"/>
<line x1="655.40" y1="146.22" x2="659.30" y2="146.22" stroke="#a0a0a0" stroke-width="1"/>
<line x1="655.40" y1="124.74" x2="659.30" y2="124.74" stroke="#a0a0a0" stroke-width="1"/>
<line x1="655.40" y1="103.25" x2="659.30" y2="103.25" stroke="#a0a0a0" stroke-width="1"/>
<line x1="655.40" y1="81.76" x2="659.30" y2="81.76" stroke="#a0a0a0" stroke-width="1"/>
<line x1="655.40" y1="60.28" x2="659.30" y2="60.28" stroke="#a0a0a0" stroke-width="1"/>
<line x1="655.40" y1="38.79" x2="659.30" y2="38.79" stroke="#a0a0a0" stroke-width="1"/>
<line x1="655.40" y1="17.30" x2="659.30" y2="17.30" stroke="#a0a0a0" stroke-width="1"/>
<line x1="490.00" y1="189.20" x2="659.30" y2="189.20" stroke="#666" stroke-width="1"/>
<polyline points="494.6,180.5 498.7,179.3 503.4,177.4 508.1,176.0 511.9,174.6 512.8,174.3 514.2,175.8 515.6,176.0 517.5,174.6 518.9,173.9 519.9,175.1 521.3,176.5 522.2,176.0 523.2,175.5 524.1,176.5 525.5,175.1 526.9,174.1 529.8,173.9 531.6,173.2 534.0,171.6 536.2,172.5 539.5,175.8 542.8,173.6 545.0,171.4 547.2,170.3 548.2,170.9 550.4,168.7 552.6,167.6 554.8,167.1 555.9,167.6 557.6,170.9 559.2,168.7 560.8,166.5 561.9,165.4 563.0,166.0 564.7,162.7 566.3,160.5 569.1,159.4 571.3,157.2 574.0,153.3 578.3,148.1 580.0,147.2 580.9,147.8 583.5,142.9 586.1,137.8 589.5,132.6 590.8,130.0 593.1,122.3 596.3,116.4 598.6,116.8 601.0,111.3 602.5,109.8 604.9,104.3 609.6,109.0 613.5,101.9 618.2,94.1 620.6,92.2 622.9,92.9 626.8,89.4 630.0,85.5 632.3,84.7 635.5,80.0 637.0,76.5 639.9,62.7 643.7,50.1 645.7,48.1 647.5,48.9 649.2,41.3 651.7,35.6 655.0,33.0" fill="none" stroke="#5dd3a8" stroke-width="1.5" stroke-linejoin="round" stroke-linecap="round" />
<text x="488.6" y="192.3" font-size="8.7" text-anchor="end" font-weight="normal" fill="#231f20">0</text>
<text x="488.6" y="175.1" font-size="8.7" text-anchor="end" font-weight="normal" fill="#231f20">10</text>
<text x="488.6" y="157.9" font-size="8.7" text-anchor="end" font-weight="normal" fill="#231f20">20</text>
<text x="488.6" y="140.7" font-size="8.7" text-anchor="end" font-weight="normal" fill="#231f20">30</text>
<text x="488.6" y="123.5" font-size="8.7" text-anchor="end" font-weight="normal" fill="#231f20">40</text>
<text x="488.6" y="106.3" font-size="8.7" text-anchor="end" font-weight="normal" fill="#231f20">50</text>
<text x="488.6" y="89.2" font-size="8.7" text-anchor="end" font-weight="normal" fill="#231f20">60</text>
<text x="488.6" y="72.0" font-size="8.7" text-anchor="end" font-weight="normal" fill="#231f20">70</text>
<text x="488.6" y="54.8" font-size="8.7" text-anchor="end" font-weight="normal" fill="#231f20">80</text>
<text x="488.6" y="37.6" font-size="8.7" text-anchor="end" font-weight="normal" fill="#231f20">90</text>
<text x="488.6" y="20.4" font-size="8.7" text-anchor="end" font-weight="normal" fill="#231f20">100</text>
<text x="660.8" y="192.3" font-size="8.7" text-anchor="start" font-weight="normal" fill="#231f20">0</text>
<text x="660.8" y="170.8" font-size="8.7" text-anchor="start" font-weight="normal" fill="#231f20">5</text>
<text x="660.8" y="149.3" font-size="8.7" text-anchor="start" font-weight="normal" fill="#231f20">10</text>
<text x="660.8" y="127.8" font-size="8.7" text-anchor="start" font-weight="normal" fill="#231f20">15</text>
<text x="660.8" y="106.3" font-size="8.7" text-anchor="start" font-weight="normal" fill="#231f20">20</text>
<text x="660.8" y="84.9" font-size="8.7" text-anchor="start" font-weight="normal" fill="#231f20">25</text>
<text x="660.8" y="63.4" font-size="8.7" text-anchor="start" font-weight="normal" fill="#231f20">30</text>
<text x="660.8" y="41.9" font-size="8.7" text-anchor="start" font-weight="normal" fill="#231f20">35</text>
<text x="660.8" y="20.4" font-size="8.7" text-anchor="start" font-weight="normal" fill="#231f20">40</text>
<text x="472.0" y="95.3" font-size="8.8" text-anchor="middle" font-weight="normal" fill="#231f20" transform="rotate(-90 472.0 95.3)">Waste flows (Gt yr<tspan font-size="5.8" dy="-4.4">–1</tspan><tspan dy="4.4">)</tspan></text>
<text x="676.0" y="103.6" font-size="9.0" text-anchor="middle" font-weight="normal" fill="#231f20" transform="rotate(90 676.0 103.6)">CO<tspan font-size="5.8" dy="2.2">2</tspan><tspan dy="-2.2"> emissions (Gt yr</tspan><tspan font-size="5.8" dy="-4.4">–1</tspan><tspan dy="4.4">)</tspan></text>
<text x="34.1" y="196.0" font-size="8.7" text-anchor="end" font-weight="normal" fill="#231f20" transform="rotate(-90 34.1 196.0)">1900</text>
<text x="47.1" y="196.0" font-size="8.7" text-anchor="end" font-weight="normal" fill="#231f20" transform="rotate(-90 47.1 196.0)">1910</text>
<text x="60.1" y="196.0" font-size="8.7" text-anchor="end" font-weight="normal" fill="#231f20" transform="rotate(-90 60.1 196.0)">1920</text>
<text x="73.1" y="196.0" font-size="8.7" text-anchor="end" font-weight="normal" fill="#231f20" transform="rotate(-90 73.1 196.0)">1930</text>
<text x="86.1" y="196.0" font-size="8.7" text-anchor="end" font-weight="normal" fill="#231f20" transform="rotate(-90 86.1 196.0)">1940</text>
<text x="99.1" y="196.0" font-size="8.7" text-anchor="end" font-weight="normal" fill="#231f20" transform="rotate(-90 99.1 196.0)">1950</text>
<text x="112.1" y="196.0" font-size="8.7" text-anchor="end" font-weight="normal" fill="#231f20" transform="rotate(-90 112.1 196.0)">1960</text>
<text x="125.1" y="196.0" font-size="8.7" text-anchor="end" font-weight="normal" fill="#231f20" transform="rotate(-90 125.1 196.0)">1970</text>
<text x="138.1" y="196.0" font-size="8.7" text-anchor="end" font-weight="normal" fill="#231f20" transform="rotate(-90 138.1 196.0)">1980</text>
<text x="151.1" y="196.0" font-size="8.7" text-anchor="end" font-weight="normal" fill="#231f20" transform="rotate(-90 151.1 196.0)">1990</text>
<text x="164.1" y="196.0" font-size="8.7" text-anchor="end" font-weight="normal" fill="#231f20" transform="rotate(-90 164.1 196.0)">2000</text>
<text x="177.1" y="196.0" font-size="8.7" text-anchor="end" font-weight="normal" fill="#231f20" transform="rotate(-90 177.1 196.0)">2010</text>
<text x="190.1" y="196.0" font-size="8.7" text-anchor="end" font-weight="normal" fill="#231f20" transform="rotate(-90 190.1 196.0)">2015</text>
<text x="275.2" y="195.5" font-size="8.7" text-anchor="end" font-weight="normal" fill="#231f20" transform="rotate(-90 275.2 195.5)">1900</text>
<text x="288.2" y="195.5" font-size="8.7" text-anchor="end" font-weight="normal" fill="#231f20" transform="rotate(-90 288.2 195.5)">1910</text>
<text x="301.1" y="195.5" font-size="8.7" text-anchor="end" font-weight="normal" fill="#231f20" transform="rotate(-90 301.1 195.5)">1920</text>
<text x="314.1" y="195.5" font-size="8.7" text-anchor="end" font-weight="normal" fill="#231f20" transform="rotate(-90 314.1 195.5)">1930</text>
<text x="327.1" y="195.5" font-size="8.7" text-anchor="end" font-weight="normal" fill="#231f20" transform="rotate(-90 327.1 195.5)">1940</text>
<text x="340.1" y="195.5" font-size="8.7" text-anchor="end" font-weight="normal" fill="#231f20" transform="rotate(-90 340.1 195.5)">1950</text>
<text x="353.0" y="195.5" font-size="8.7" text-anchor="end" font-weight="normal" fill="#231f20" transform="rotate(-90 353.0 195.5)">1960</text>
<text x="366.0" y="195.5" font-size="8.7" text-anchor="end" font-weight="normal" fill="#231f20" transform="rotate(-90 366.0 195.5)">1970</text>
<text x="379.0" y="195.5" font-size="8.7" text-anchor="end" font-weight="normal" fill="#231f20" transform="rotate(-90 379.0 195.5)">1980</text>
<text x="391.9" y="195.5" font-size="8.7" text-anchor="end" font-weight="normal" fill="#231f20" transform="rotate(-90 391.9 195.5)">1990</text>
<text x="404.9" y="195.5" font-size="8.7" text-anchor="end" font-weight="normal" fill="#231f20" transform="rotate(-90 404.9 195.5)">2000</text>
<text x="417.9" y="195.5" font-size="8.7" text-anchor="end" font-weight="normal" fill="#231f20" transform="rotate(-90 417.9 195.5)">2010</text>
<text x="430.8" y="195.5" font-size="8.7" text-anchor="end" font-weight="normal" fill="#231f20" transform="rotate(-90 430.8 195.5)">2015</text>
<text x="499.5" y="196.0" font-size="8.7" text-anchor="end" font-weight="normal" fill="#231f20" transform="rotate(-90 499.5 196.0)">1900</text>
<text x="512.8" y="196.0" font-size="8.7" text-anchor="end" font-weight="normal" fill="#231f20" transform="rotate(-90 512.8 196.0)">1910</text>
<text x="526.1" y="196.0" font-size="8.7" text-anchor="end" font-weight="normal" fill="#231f20" transform="rotate(-90 526.1 196.0)">1920</text>
<text x="539.3" y="196.0" font-size="8.7" text-anchor="end" font-weight="normal" fill="#231f20" transform="rotate(-90 539.3 196.0)">1930</text>
<text x="552.6" y="196.0" font-size="8.7" text-anchor="end" font-weight="normal" fill="#231f20" transform="rotate(-90 552.6 196.0)">1940</text>
<text x="565.9" y="196.0" font-size="8.7" text-anchor="end" font-weight="normal" fill="#231f20" transform="rotate(-90 565.9 196.0)">1950</text>
<text x="579.2" y="196.0" font-size="8.7" text-anchor="end" font-weight="normal" fill="#231f20" transform="rotate(-90 579.2 196.0)">1960</text>
<text x="592.5" y="196.0" font-size="8.7" text-anchor="end" font-weight="normal" fill="#231f20" transform="rotate(-90 592.5 196.0)">1970</text>
<text x="605.7" y="196.0" font-size="8.7" text-anchor="end" font-weight="normal" fill="#231f20" transform="rotate(-90 605.7 196.0)">1980</text>
<text x="619.0" y="196.0" font-size="8.7" text-anchor="end" font-weight="normal" fill="#231f20" transform="rotate(-90 619.0 196.0)">1990</text>
<text x="632.3" y="196.0" font-size="8.7" text-anchor="end" font-weight="normal" fill="#231f20" transform="rotate(-90 632.3 196.0)">2000</text>
<text x="645.6" y="196.0" font-size="8.7" text-anchor="end" font-weight="normal" fill="#231f20" transform="rotate(-90 645.6 196.0)">2010</text>
<text x="658.9" y="196.0" font-size="8.7" text-anchor="end" font-weight="normal" fill="#231f20" transform="rotate(-90 658.9 196.0)">2015</text>
<text x="109.3" y="227.6" font-size="8.8" text-anchor="middle" font-weight="normal" fill="#231f20">Year</text>
<text x="349.7" y="227.6" font-size="8.8" text-anchor="middle" font-weight="normal" fill="#231f20">Year</text>
<text x="574.5" y="227.6" font-size="8.8" text-anchor="middle" font-weight="normal" fill="#231f20">Year</text>
<rect x="31.8" y="237.90" width="12.0" height="3.0" fill="#6aa84a"/>
<text x="48.3" y="242.2" font-size="8.8" text-anchor="start" font-weight="normal" fill="#231f20">Biomass</text>
<rect x="31.8" y="248.40" width="12.0" height="3.0" fill="#4a7cc4"/>
<text x="48.3" y="252.7" font-size="8.8" text-anchor="start" font-weight="normal" fill="#231f20">Ores and metals</text>
<rect x="31.8" y="258.90" width="12.0" height="3.0" fill="#f58b2f"/>
<text x="48.3" y="263.2" font-size="8.8" text-anchor="start" font-weight="normal" fill="#231f20">Fossil energy carriers</text>
<rect x="31.8" y="269.40" width="12.0" height="3.0" fill="#999999"/>
<text x="48.3" y="273.7" font-size="8.8" text-anchor="start" font-weight="normal" fill="#231f20">Non-metallic minerals</text>
<line x1="31.6" y1="281.1" x2="44.2" y2="281.1" stroke="#4677c2" stroke-width="1.6"/>
<circle cx="37.8" cy="281.1" r="2.8" fill="#4677c2"/>
<text x="48.3" y="284.2" font-size="8.8" text-anchor="start" font-weight="normal" fill="#231f20">Water (secondary Y axis)</text>
<rect x="272.8" y="237.90" width="12.3" height="2.8" fill="#d9d9d9"/>
<rect x="272.8" y="248.10" width="12.3" height="2.8" fill="#4a7cc4"/>
<rect x="272.8" y="258.50" width="12.3" height="2.8" fill="#2f2a28"/>
<rect x="272.8" y="268.50" width="12.3" height="2.8" fill="#e8c81c"/>
<line x1="272.5" y1="281.50" x2="285.4" y2="281.50" stroke="#3aa33e" stroke-width="3.0" stroke-linecap="round"/>
<line x1="272.6" y1="292.20" x2="285.4" y2="292.20" stroke="#e0512a" stroke-width="3.8" stroke-linecap="round"/>
<line x1="271.9" y1="302.8" x2="286.0" y2="302.8" stroke="#9a4a14" stroke-width="1.2"/>
<circle cx="279.2" cy="302.8" r="1.8" fill="#9a4a14"/>
<line x1="273.0" y1="313.40" x2="285.3" y2="313.40" stroke="#000000" stroke-width="3.2" stroke-linecap="round"/>
<text x="290.7" y="242.3" font-size="8.8" text-anchor="start" font-weight="normal" fill="#231f20">Stocks of concrete, bricks and asphalt</text>
<text x="290.7" y="252.9" font-size="8.8" text-anchor="start" font-weight="normal" fill="#231f20">Stocks of metals</text>
<text x="290.7" y="263.5" font-size="8.8" text-anchor="start" font-weight="normal" fill="#231f20">Stocks of aggregates and sand</text>
<text x="290.7" y="274.1" font-size="8.8" text-anchor="start" font-weight="normal" fill="#231f20">Stocks of wood, glass and plastics</text>
<text x="290.7" y="284.7" font-size="8.8" text-anchor="start" font-weight="normal" fill="#231f20">Useful physical work (secondary Y axis)</text>
<text x="290.7" y="295.3" font-size="8.8" text-anchor="start" font-weight="normal" fill="#231f20">GDP (secondary Y axis)</text>
<text x="290.7" y="305.9" font-size="8.8" text-anchor="start" font-weight="normal" fill="#231f20">Life expectancy (secondary Y axis)</text>
<text x="290.7" y="316.5" font-size="8.8" text-anchor="start" font-weight="normal" fill="#231f20">Population (secondary Y axis)</text>
<rect x="495.8" y="238.65" width="12.8" height="2.9" fill="#e2c02a"/>
<rect x="495.8" y="249.00" width="12.8" height="2.9" fill="#4f6fbe"/>
<rect x="495.8" y="259.35" width="12.8" height="2.9" fill="#a3a3a3"/>
<rect x="495.8" y="269.70" width="12.8" height="2.9" fill="#9ad8ea"/>
<line x1="495.7" y1="292.75" x2="507.5" y2="292.75" stroke="#5dd3a8" stroke-width="3.0" stroke-linecap="round"/>
<text x="512.1" y="243.2" font-size="8.8" text-anchor="start" font-weight="normal" fill="#231f20">Dissipative uses</text>
<text x="512.1" y="253.5" font-size="8.8" text-anchor="start" font-weight="normal" fill="#231f20">Excrement from humans and livestock</text>
<text x="512.1" y="263.9" font-size="8.8" text-anchor="start" font-weight="normal" fill="#231f20">Demolition, industrial&#160; and municipal waste</text>
<text x="512.1" y="274.2" font-size="8.8" text-anchor="start" font-weight="normal" fill="#231f20">Emissions of carbon, nitrogen, sulfur</text>
<text x="512.1" y="284.6" font-size="8.8" text-anchor="start" font-weight="normal" fill="#231f20">and methane</text>
<text x="512.1" y="295.9" font-size="8.8" text-anchor="start" font-weight="normal" fill="#231f20">CO<tspan font-size="5.8" dy="2.6">2</tspan><tspan dy="-2.6"> emissions (fossil fuels and cement)</tspan></text>
<text x="512.1" y="306.2" font-size="8.8" text-anchor="start" font-weight="normal" fill="#231f20">(secondary Y axis)</text>
</svg></body></html>
